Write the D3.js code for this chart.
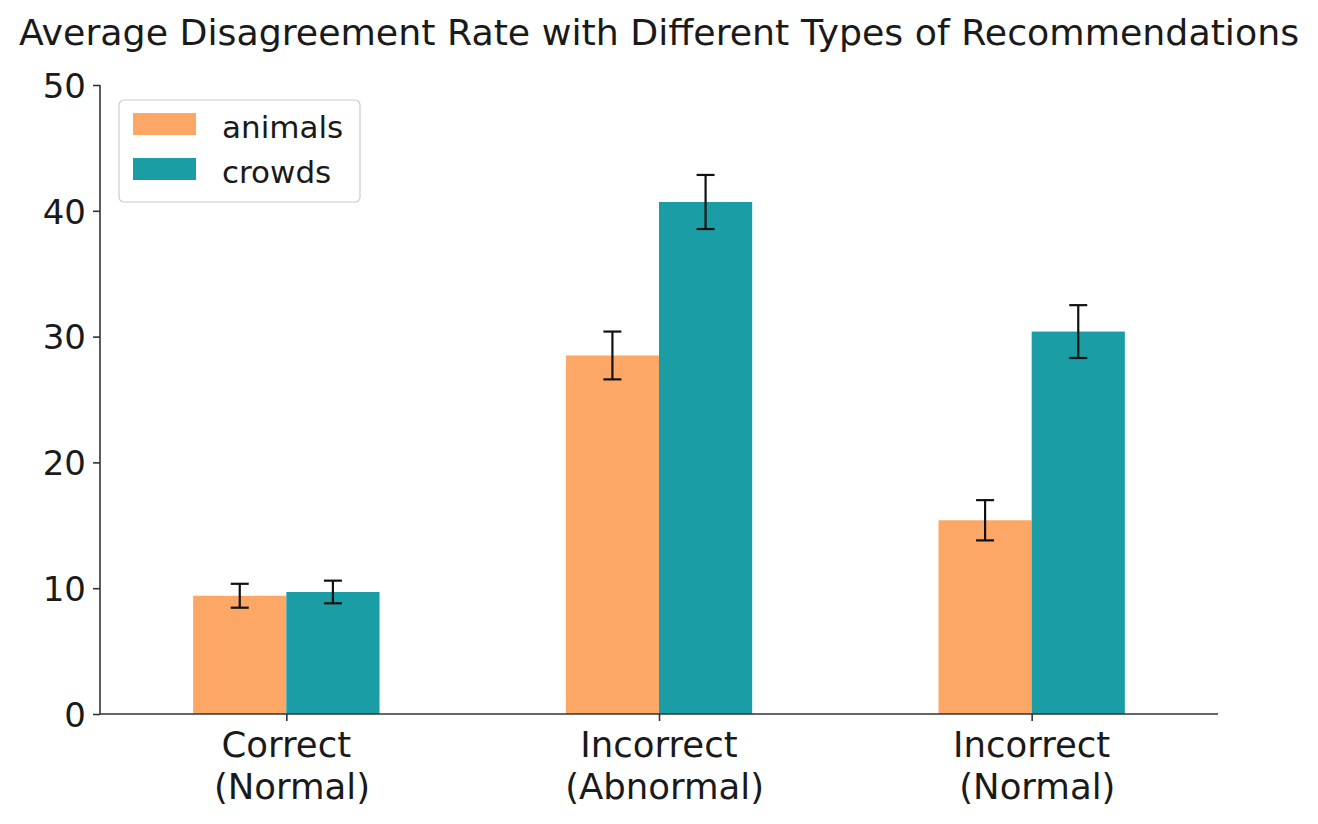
<!DOCTYPE html>
<html>
<head>
<meta charset="utf-8">
<script src="https://cdn.jsdelivr.net/npm/d3@7"></script>
<style>
  body { margin: 0; background: #fff; }
  text { font-family: "DejaVu Sans", sans-serif; fill: #1a1a1a; }
</style>
</head>
<body>
<div id="chart"></div>
<script>
// data
var categories = ["Correct\n (Normal)", "Incorrect\n (Abnormal)", "Incorrect\n (Normal)"]
var seriesNames = ["animals", "crowds"]
var animalsMean = [9.4, 28.5, 15.4]
var animalsErr = [0.95, 1.9, 1.6]
var crowdsMean = [9.7, 40.7, 30.4]
var crowdsErr = [0.9, 2.15, 2.1]
var yTicks = [0, 10, 20, 30, 40, 50]

var dimensions = {
    width: 1318, height: 824,
    margin: { top: 85, right: 100, bottom: 110, left: 100 }
}
dimensions.boundedWidth = dimensions.width - dimensions.margin.left - dimensions.margin.right
dimensions.boundedHeight = dimensions.height - dimensions.margin.top - dimensions.margin.bottom

var colScale = d3.scaleOrdinal().domain(seriesNames).range(["#FDA766", "#1A9DA5"])

var svg = d3.select("#chart").append("svg")
    .attr("width", dimensions.width)
    .attr("height", dimensions.height)

svg.append("text")
    .attr("x", 659).attr("y", 45)
    .attr("text-anchor", "middle")
    .style("font-size", "36.3px")
    .text("Average Disagreement Rate with Different Types of Recommendations")

var g = svg.append("g")
    .attr("transform", "translate(" + dimensions.margin.left + "," + dimensions.margin.top + ")")

var xScale = d3.scaleLinear().domain([-0.5, categories.length - 0.5]).range([0, dimensions.boundedWidth])
var yScale = d3.scaleLinear().domain([0, 50]).range([dimensions.boundedHeight, 0])
var barW = 0.25

var rows = []
categories.forEach(function (c, i) {
    rows.push({ s: "animals", i: i, v: animalsMean[i], e: animalsErr[i], x0: i - barW })
    rows.push({ s: "crowds", i: i, v: crowdsMean[i], e: crowdsErr[i], x0: i })
})

g.selectAll(".bar").data(rows).enter().append("rect")
    .attr("class", "bar")
    .attr("x", function (d) { return xScale(d.x0) })
    .attr("width", function (d) { return xScale(d.x0 + barW) - xScale(d.x0) })
    .attr("y", function (d) { return yScale(d.v) })
    .attr("height", function (d) { return yScale(0) - yScale(d.v) })
    .attr("fill", function (d) { return colScale(d.s) })

// error bars
var eb = g.selectAll(".err").data(rows).enter().append("g").attr("class", "err")
    .attr("stroke", "#111").attr("stroke-width", 2.2)
eb.append("line")
    .attr("x1", function (d) { return xScale(d.x0 + barW / 2) })
    .attr("x2", function (d) { return xScale(d.x0 + barW / 2) })
    .attr("y1", function (d) { return yScale(d.v - d.e) })
    .attr("y2", function (d) { return yScale(d.v + d.e) })
;[-1, 1].forEach(function (sgn) {
    eb.append("line")
        .attr("x1", function (d) { return xScale(d.x0 + barW / 2) - 9 })
        .attr("x2", function (d) { return xScale(d.x0 + barW / 2) + 9 })
        .attr("y1", function (d) { return yScale(d.v + sgn * d.e) })
        .attr("y2", function (d) { return yScale(d.v + sgn * d.e) })
})

// axes
var yAxis = g.append("g").call(d3.axisLeft(yScale).tickValues(yTicks).tickSize(7).tickPadding(7))
yAxis.selectAll("text").style("font-size", "34px").attr("dy", "0.36em")
var xAxis = g.append("g").attr("transform", "translate(0," + dimensions.boundedHeight + ")")
    .call(d3.axisBottom(xScale).tickValues(d3.range(categories.length)).tickSize(7).tickFormat(""))
;[yAxis, xAxis].forEach(function (a) {
    a.select(".domain").attr("stroke", "#333").attr("stroke-width", 1.6)
    a.selectAll(".tick line").attr("stroke", "#333").attr("stroke-width", 1.6)
})
xAxis.select(".domain").attr("d", "M0,0H" + dimensions.boundedWidth)
yAxis.select(".domain").attr("d", "M0,0V" + dimensions.boundedHeight)

var xl = xAxis.selectAll(".xlab").data(categories).enter().append("text")
    .attr("class", "xlab")
    .attr("text-anchor", "middle")
    .style("font-size", "35.5px")
    .style("white-space", "pre")
    .attr("fill", "#1a1a1a")
xl.each(function (d, i) {
    var t = d3.select(this)
    d.split("\n").forEach(function (line, k) {
        t.append("tspan").attr("x", xScale(i)).attr("y", 43 + k * 42).text(line)
    })
})

// legend
var leg = svg.append("g").attr("transform", "translate(119,100)")
leg.append("rect").attr("width", 241).attr("height", 102).attr("rx", 5)
    .attr("fill", "#fff").attr("stroke", "#ccc").attr("stroke-width", 1.2)
var lineLegend = leg.selectAll(".lineLegend").data(seriesNames).enter().append("g")
    .attr("class", "lineLegend")
    .attr("transform", function (d, i) { return "translate(14," + (13 + i * 45) + ")" })
lineLegend.append("rect").attr("width", 63).attr("height", 22).attr("fill", function (d) { return colScale(d) })
lineLegend.append("text").attr("x", 89).attr("y", 14).attr("dy", "0.35em")
    .style("font-size", "31px").text(function (d) { return d })
</script>
</body>
</html>
